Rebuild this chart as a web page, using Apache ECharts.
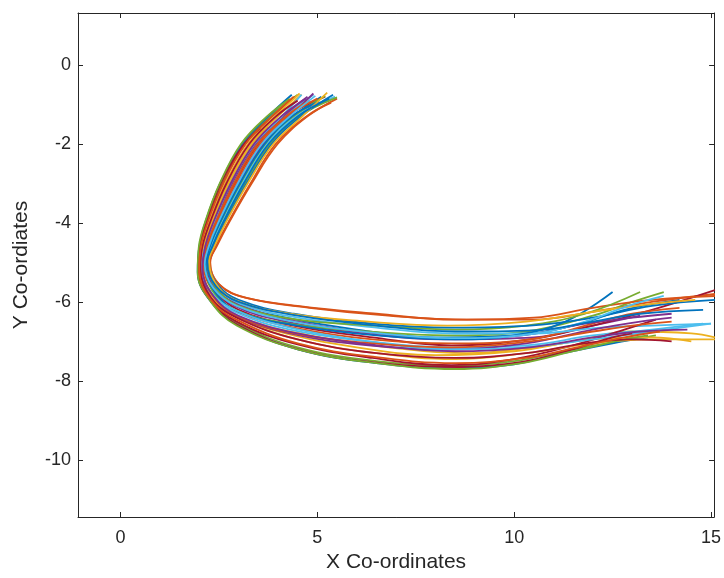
<!DOCTYPE html>
<html>
<head>
<meta charset="utf-8">
<script src="https://cdn.jsdelivr.net/npm/echarts@6/dist/echarts.min.js"></script>
<style>
  html, body { margin: 0; padding: 0; background: #fff; }
  #chart { width: 724px; height: 578px; }
</style>
</head>
<body>
<div id="chart"></div>
<script>
// tick positions of the axes
var xTicks = [0, 5, 10, 15];
var yTicks = [-10, -8, -6, -4, -2, 0];

// MATLAB default colour order
var lineColors = ["#0072BD", "#D95319", "#EDB120", "#7E2F8E", "#77AC30", "#4DBEEE", "#A2142F"];

// trajectories, [x, y]
var track01 = [[5.1,-0.8],[4.38,-1.3],[3.65,-2.0],[3.03,-3.0],[2.53,-4.0],[2.27,-4.6],[2.15,-5.0],[2.35,-5.6],[2.9,-6.05],[4.2,-6.4],[6.0,-6.7],[8.0,-6.9],[10.0,-6.85],[11.5,-6.6],[12.8,-6.2],[14.2,-5.95]];
var track02 = [[5.5,-0.85],[4.75,-1.3],[3.99,-2.0],[3.33,-3.0],[2.75,-4.0],[2.44,-4.6],[2.27,-4.98],[2.45,-5.5],[3.0,-5.85],[4.5,-6.1],[6.5,-6.3],[8.5,-6.45],[10.5,-6.45],[12.0,-6.25],[13.5,-6.0],[15.1,-5.8]];
var track03 = [[4.6,-0.75],[4.0,-1.3],[3.32,-2.0],[2.73,-3.0],[2.3,-4.0],[2.11,-4.6],[2.05,-5.1],[2.25,-5.8],[2.8,-6.3],[4.0,-6.75],[6.0,-7.15],[8.0,-7.35],[10.0,-7.25],[11.5,-7.0],[13.0,-6.75],[14.5,-6.8],[15.1,-6.9]];
var track04 = [[5.3,-0.9],[4.33,-1.3],[3.62,-2.0],[3.0,-3.0],[2.5,-4.0],[2.26,-4.6],[2.2,-5.1],[2.45,-5.7],[3.1,-6.1],[4.5,-6.5],[6.5,-6.8],[8.5,-6.95],[10.5,-6.9],[12.0,-6.6],[13.2,-6.35]];
var track05 = [[4.5,-0.75],[3.79,-1.3],[3.13,-2.0],[2.56,-3.0],[2.17,-4.0],[2.02,-4.6],[1.97,-5.2],[2.3,-5.95],[3.0,-6.55],[4.5,-7.15],[6.5,-7.5],[8.5,-7.62],[10.0,-7.5],[11.5,-7.2],[13.0,-6.95],[13.6,-6.85]];
var track06 = [[4.9,-0.75],[4.17,-1.3],[3.46,-2.0],[2.86,-3.0],[2.4,-4.0],[2.18,-4.6],[2.08,-5.15],[2.3,-5.8],[2.9,-6.25],[4.3,-6.7],[6.3,-7.0],[8.3,-7.15],[10.3,-7.1],[12.0,-6.85],[13.5,-6.7],[14.8,-6.55]];
var track07 = [[5.2,-0.8],[4.21,-1.3],[3.5,-2.0],[2.9,-3.0],[2.43,-4.0],[2.2,-4.6],[2.12,-5.05],[2.4,-5.7],[3.0,-6.2],[4.4,-6.6],[6.4,-6.9],[8.4,-7.1],[10.4,-6.95],[12.0,-6.6],[13.5,-6.2],[15.1,-5.7]];
var track08 = [[4.35,-0.75],[3.75,-1.3],[3.09,-2.0],[2.53,-3.0],[2.15,-4.0],[2.0,-4.6],[1.96,-5.25],[2.3,-6.0],[3.0,-6.6],[4.5,-7.2],[6.5,-7.55],[8.5,-7.68],[10.0,-7.58],[11.0,-7.35],[12.5,-7.05],[13.4,-6.9]];
var track09 = [[5.0,-0.85],[4.25,-1.3],[3.54,-2.0],[2.93,-3.0],[2.45,-4.0],[2.22,-4.6],[2.12,-5.1],[2.38,-5.75],[3.0,-6.25],[4.4,-6.65],[6.4,-6.95],[8.4,-7.05],[10.4,-6.95],[12.0,-6.55],[13.0,-6.3],[14.2,-6.15]];
var track10 = [[3.75,-1.55],[3.35,-2.0],[2.76,-3.0],[2.32,-4.0],[2.13,-4.6],[2.05,-5.15],[2.4,-6.0],[3.2,-6.45],[4.8,-6.85],[6.8,-7.15],[8.8,-7.3],[10.5,-7.15],[12.0,-6.95],[13.5,-6.9],[14.5,-7.0]];
var track11 = [[4.9,-0.72],[4.3,-1.3],[3.59,-2.0],[2.98,-3.0],[2.49,-4.0],[2.25,-4.6],[2.15,-5.0],[2.35,-5.6],[2.9,-6.1],[4.2,-6.5],[6.2,-6.8],[8.2,-6.95],[10.2,-6.85],[11.8,-6.55],[13.0,-6.4],[14.0,-6.3]];
var track12 = [[5.2,-0.78],[4.42,-1.3],[3.69,-2.0],[3.06,-3.0],[2.55,-4.0],[2.29,-4.6],[2.18,-5.0],[2.32,-5.7],[2.9,-6.2],[4.3,-6.55],[6.3,-6.75],[8.3,-6.85],[10.3,-6.75],[12.0,-6.35],[13.0,-6.0],[13.8,-5.75]];
var track13 = [[5.45,-0.8],[4.46,-1.3],[3.73,-2.0],[3.1,-3.0],[2.58,-4.0],[2.31,-4.6],[2.2,-5.0],[2.45,-5.6],[3.05,-6.05],[4.5,-6.4],[6.5,-6.65],[8.5,-6.8],[10.5,-6.8],[12.2,-6.65],[13.5,-6.6],[15.0,-6.55]];
var track14 = [[4.45,-0.8],[3.85,-1.3],[3.16,-2.0],[2.6,-3.0],[2.19,-4.0],[2.03,-4.6],[1.98,-5.2],[2.3,-5.95],[2.95,-6.5],[4.4,-7.05],[6.4,-7.42],[8.4,-7.6],[10.0,-7.45],[11.5,-7.1],[12.8,-6.7],[13.6,-6.45]];
var track15 = [[5.05,-0.92],[4.35,-1.3],[3.66,-2.0],[3.03,-3.0],[2.52,-4.0],[2.27,-4.6],[2.16,-5.1],[2.4,-5.75],[3.0,-6.25],[4.5,-6.6],[6.5,-6.85],[8.5,-6.95],[10.0,-6.85],[11.3,-6.5],[12.5,-5.75]];
var track16 = [[5.35,-0.95],[4.72,-1.3],[3.94,-2.0],[3.3,-3.0],[2.73,-4.0],[2.42,-4.6],[2.28,-5.0],[2.5,-5.55],[3.2,-5.9],[4.8,-6.15],[6.8,-6.35],[8.8,-6.45],[10.5,-6.4],[12.0,-6.15],[13.5,-5.95],[15.1,-5.85]];
var track17 = [[4.55,-0.72],[3.92,-1.3],[3.24,-2.0],[2.66,-3.0],[2.25,-4.0],[2.07,-4.6],[2.02,-5.15],[2.35,-5.9],[3.0,-6.4],[4.5,-6.95],[6.5,-7.3],[8.5,-7.45],[10.3,-7.3],[12.0,-7.05],[13.5,-6.95],[15.1,-6.95]];
var track18 = [[4.75,-0.8],[4.13,-1.3],[3.43,-2.0],[2.83,-3.0],[2.38,-4.0],[2.16,-4.6],[2.07,-5.1],[2.3,-5.9],[2.9,-6.35],[4.3,-6.8],[6.3,-7.1],[8.3,-7.2],[10.3,-7.05],[12.0,-6.7],[13.2,-6.5],[14.0,-6.4]];
var track19 = [[5.5,-0.82],[4.54,-1.3],[3.8,-2.0],[3.16,-3.0],[2.62,-4.0],[2.35,-4.6],[2.22,-5.0],[2.42,-5.65],[3.0,-6.1],[4.5,-6.45],[6.5,-6.6],[8.5,-6.7],[10.3,-6.6],[11.8,-6.3],[13.2,-5.75]];
var track20 = [[4.6,-0.75],[4.1,-1.3],[3.4,-2.0],[2.8,-3.0],[2.37,-4.0],[2.15,-4.6],[2.06,-5.1],[2.3,-5.75],[2.9,-6.2],[4.3,-6.65],[6.3,-7.0],[8.3,-7.2],[10.2,-7.15],[12.0,-6.95],[13.5,-6.75],[15.0,-6.55]];
var track21 = [[3.55,-1.6],[3.1,-2.05],[2.54,-3.0],[2.16,-4.0],[2.01,-4.6],[1.97,-5.25],[2.35,-6.05],[3.1,-6.65],[4.6,-7.22],[6.6,-7.55],[8.6,-7.65],[10.2,-7.52],[11.5,-7.2],[12.5,-6.9],[13.0,-6.8]];
var track22 = [[5.4,-0.75],[4.58,-1.3],[3.84,-2.0],[3.2,-3.0],[2.65,-4.0],[2.37,-4.6],[2.24,-4.95],[2.45,-5.55],[3.0,-5.95],[4.4,-6.3],[6.4,-6.55],[8.4,-6.65],[10.4,-6.6],[12.0,-6.4],[13.5,-6.1],[15.1,-5.95]];
var track23 = [[4.8,-0.9],[4.2,-1.3],[3.48,-2.0],[2.88,-3.0],[2.41,-4.0],[2.18,-4.6],[2.09,-5.1],[2.35,-5.85],[2.95,-6.35],[4.4,-6.8],[6.4,-7.05],[8.4,-7.15],[10.4,-7.0],[12.0,-6.75],[13.0,-6.6],[14.0,-6.5]];
var track24 = [[5.25,-0.7],[4.62,-1.3],[3.88,-2.0],[3.23,-3.0],[2.67,-4.0],[2.38,-4.6],[2.25,-4.95],[2.4,-5.5],[2.9,-5.95],[4.3,-6.3],[6.3,-6.5],[8.3,-6.6],[10.3,-6.5],[12.0,-6.25],[13.5,-6.05],[14.6,-5.95]];
var track25 = [[4.7,-0.85],[4.08,-1.3],[3.39,-2.0],[2.8,-3.0],[2.35,-4.0],[2.15,-4.6],[2.08,-5.15],[2.36,-5.85],[3.0,-6.35],[4.5,-6.8],[6.5,-7.1],[8.5,-7.25],[10.4,-7.15],[12.0,-6.9],[13.2,-6.75],[14.4,-6.7]];
var track26 = [[4.3,-0.85],[3.72,-1.3],[3.06,-2.0],[2.52,-3.0],[2.14,-4.0],[1.99,-4.6],[1.96,-5.25],[2.3,-6.0],[2.95,-6.6],[4.5,-7.2],[6.5,-7.55],[8.5,-7.7],[10.2,-7.55],[11.5,-7.25],[12.8,-6.95],[13.4,-6.85]];
var track27 = [[4.95,-0.78],[4.3,-1.3],[3.59,-2.0],[2.98,-3.0],[2.48,-4.0],[2.24,-4.6],[2.14,-5.05],[2.36,-5.65],[2.95,-6.1],[4.4,-6.5],[6.4,-6.78],[8.4,-6.92],[10.4,-6.82],[11.8,-6.5],[12.9,-6.1],[13.8,-5.85]];
var track28 = [[4.5,-0.9],[3.95,-1.3],[3.27,-2.0],[2.69,-3.0],[2.27,-4.0],[2.08,-4.6],[2.03,-5.15],[2.3,-5.9],[2.95,-6.4],[4.5,-6.95],[6.5,-7.3],[8.5,-7.42],[10.3,-7.3],[11.8,-7.05],[13.0,-6.95],[14.0,-7.0]];
var track29 = [[5.3,-0.85],[4.5,-1.3],[3.76,-2.0],[3.13,-3.0],[2.6,-4.0],[2.33,-4.6],[2.2,-5.0],[2.42,-5.6],[3.0,-6.0],[4.5,-6.35],[6.5,-6.6],[8.5,-6.75],[10.5,-6.72],[12.0,-6.5],[13.2,-6.3],[14.8,-6.2]];
var track30 = [[4.4,-0.8],[3.85,-1.3],[3.18,-2.0],[2.61,-3.0],[2.21,-4.0],[2.04,-4.6],[2.0,-5.2],[2.3,-5.95],[2.95,-6.45],[4.5,-7.05],[6.5,-7.4],[8.5,-7.55],[10.3,-7.42],[11.6,-7.15],[12.8,-6.9],[13.7,-6.75]];

var tracks = [track01, track02, track03, track04, track05, track06, track07, track08, track09, track10,
  track11, track12, track13, track14, track15, track16, track17, track18, track19, track20,
  track21, track22, track23, track24, track25, track26, track27, track28, track29, track30];

var chart = echarts.init(document.getElementById("chart"));

var fontName = "Liberation Sans, Arial, sans-serif";
var axisText = { color: "#262626", fontFamily: fontName, fontSize: 18 };
var nameText = { color: "#262626", fontFamily: fontName, fontSize: 21 };
var boxLine = { show: true, onZero: false, lineStyle: { color: "#262626", width: 1 } };

function ticks(values) {
  return { show: true, inside: true, length: 5, customValues: values, lineStyle: { color: "#262626" } };
}

var series = tracks.map(function (t, i) {
  return {
    type: "line",
    data: t,
    smooth: 0.4,
    showSymbol: false,
    symbol: "none",
    clip: true,
    lineStyle: { width: 1.8, color: lineColors[i % lineColors.length] },
  };
});

var option = {
  animation: false,
  backgroundColor: "#fff",
  grid: { left: 78, right: 8, top: 13, bottom: 61, containLabel: false },
  xAxis: [
    {
      type: "value",
      min: -1.08,
      max: 15.08,
      position: "bottom",
      name: "X Co-ordinates",
      nameLocation: "middle",
      nameGap: 34,
      nameTextStyle: nameText,
      axisLine: boxLine,
      axisTick: ticks(xTicks),
      axisLabel: Object.assign({ margin: 12, customValues: xTicks }, axisText),
      splitLine: { show: false },
    },
    {
      type: "value",
      min: -1.08,
      max: 15.08,
      position: "top",
      axisLine: boxLine,
      axisTick: ticks(xTicks),
      axisLabel: { show: false },
      splitLine: { show: false },
    },
  ],
  yAxis: [
    {
      type: "value",
      min: -11.45,
      max: 1.32,
      position: "left",
      name: "Y Co-ordiates",
      nameLocation: "middle",
      nameGap: 46,
      nameTextStyle: nameText,
      axisLine: boxLine,
      axisTick: ticks(yTicks),
      axisLabel: Object.assign({ margin: 7, customValues: yTicks }, axisText),
      splitLine: { show: false },
    },
    {
      type: "value",
      min: -11.45,
      max: 1.32,
      position: "right",
      axisLine: boxLine,
      axisTick: ticks(yTicks),
      axisLabel: { show: false },
      splitLine: { show: false },
    },
  ],
  series: series,
};

chart.setOption(option);
</script>
</body>
</html>
